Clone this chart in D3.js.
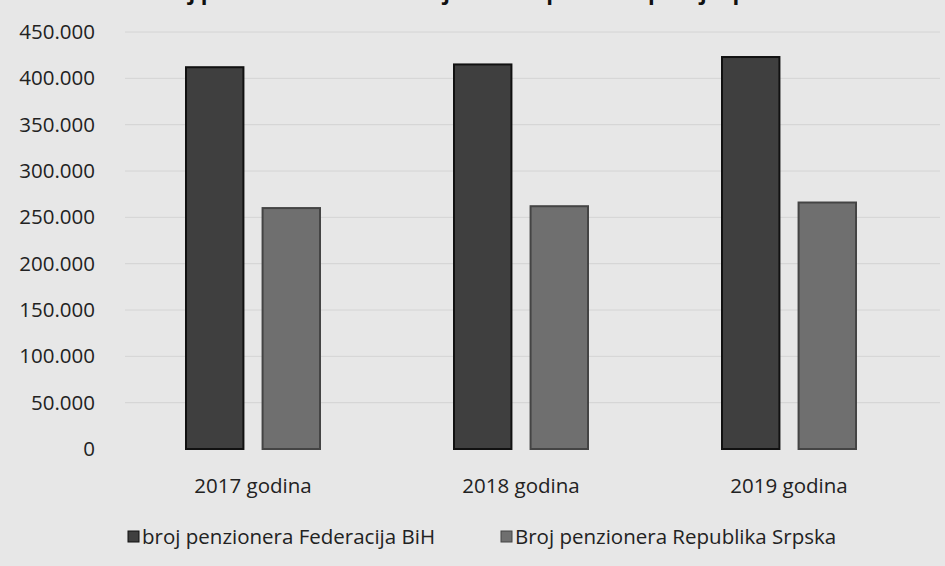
<!DOCTYPE html>
<html>
<head>
<meta charset="utf-8">
<script src="https://cdn.jsdelivr.net/npm/d3@7"></script>
<style>
  body { margin: 0; background: #e7e7e7; }
  svg { display: block; }
</style>
</head>
<body>
<script>
// data
var years = ["2017 godina", "2018 godina", "2019 godina"];
var seriesNames = ["broj penzionera Federacija BiH", "Broj penzionera Republika Srpska"];
var federacija = [412000, 415000, 423000];
var srpska = [260000, 262000, 266000];
var yTicks = [0, 50000, 100000, 150000, 200000, 250000, 300000, 350000, 400000, 450000];

var w = 945;
var h = 566;
var fills = ["#3f3f3f", "#6f6f6f"];
var strokes = ["#111111", "#444444"];

var svg = d3.select("body")
  .append("svg")
  .attr("width", w)
  .attr("height", h)
  .style("font-family", "'Open Sans', sans-serif");

svg.append("rect").attr("width", w).attr("height", h).attr("fill", "#e7e7e7");

// title, cut off at the top of the scan
svg.append("text")
  .attr("x", 150)
  .attr("y", 0)
  .attr("font-size", "22px")
  .attr("font-weight", "bold")
  .attr("fill", "#111")
  .text("Broj penzionera u Federaciji BiH i Republici Srpskoj u periodu 2017-2019.");

var x0 = d3.scaleBand().domain(years).range([119, 923]).paddingInner(0.5).paddingOuter(0.25);
var x1 = d3.scaleBand().domain([0, 1]).range([0, x0.bandwidth()]).paddingInner(0.25);
var y = d3.scaleLinear().domain([0, 450000]).range([449, 32]);

// gridlines
svg.selectAll("line.grid")
  .data(yTicks.slice(1))
  .enter()
  .append("line")
  .attr("class", "grid")
  .attr("x1", 125)
  .attr("x2", 940)
  .attr("y1", function(d) { return y(d); })
  .attr("y2", function(d) { return y(d); })
  .attr("stroke", "#d4d4d4")
  .attr("stroke-width", 1);

// y axis labels
var yAxis = d3.axisLeft(y)
  .tickValues(yTicks)
  .tickSize(0)
  .tickPadding(0)
  .tickFormat(function(d) { return d3.format(",")(d).replace(/,/g, "."); });

var gy = svg.append("g").attr("transform", "translate(95,0)").call(yAxis);
gy.select(".domain").remove();
gy.selectAll("text")
  .attr("font-size", "20.5px")
  .attr("font-family", "'Open Sans', sans-serif")
  .attr("fill", "#222");

// bars
var rows = years.map(function(yr, i) {
  return { year: yr, values: [federacija[i], srpska[i]] };
});

var groups = svg.selectAll("g.year")
  .data(rows)
  .enter()
  .append("g")
  .attr("class", "year")
  .attr("transform", function(d) { return "translate(" + x0(d.year) + ",0)"; });

groups.selectAll("rect")
  .data(function(d) { return d.values.map(function(v, k) { return { k: k, v: v }; }); })
  .enter()
  .append("rect")
  .attr("x", function(d) { return x1(d.k); })
  .attr("width", x1.bandwidth())
  .attr("y", function(d) { return y(d.v); })
  .attr("height", function(d) { return y(0) - y(d.v); })
  .attr("fill", function(d) { return fills[d.k]; })
  .attr("stroke", function(d) { return strokes[d.k]; })
  .attr("stroke-width", 2);

// x axis labels
var xAxis = d3.axisBottom(x0).tickSize(0).tickPadding(0);
var gx = svg.append("g").attr("transform", "translate(0,478)").call(xAxis);
gx.select(".domain").remove();
gx.selectAll("text")
  .attr("font-size", "20.5px")
  .attr("font-family", "'Open Sans', sans-serif")
  .attr("fill", "#222");

// legend
var legendX = [128, 501];
var legend = svg.selectAll("g.legend")
  .data(seriesNames)
  .enter()
  .append("g")
  .attr("class", "legend")
  .attr("transform", function(d, i) { return "translate(" + legendX[i] + ",531)"; });

legend.append("rect")
  .attr("width", 11)
  .attr("height", 11)
  .attr("fill", function(d, i) { return fills[i]; })
  .attr("stroke", function(d, i) { return strokes[i]; });

legend.append("text")
  .attr("x", 14)
  .attr("y", 13)
  .attr("font-size", "20.5px")
  .attr("fill", "#222")
  .text(function(d) { return d; });
</script>
</body>
</html>
